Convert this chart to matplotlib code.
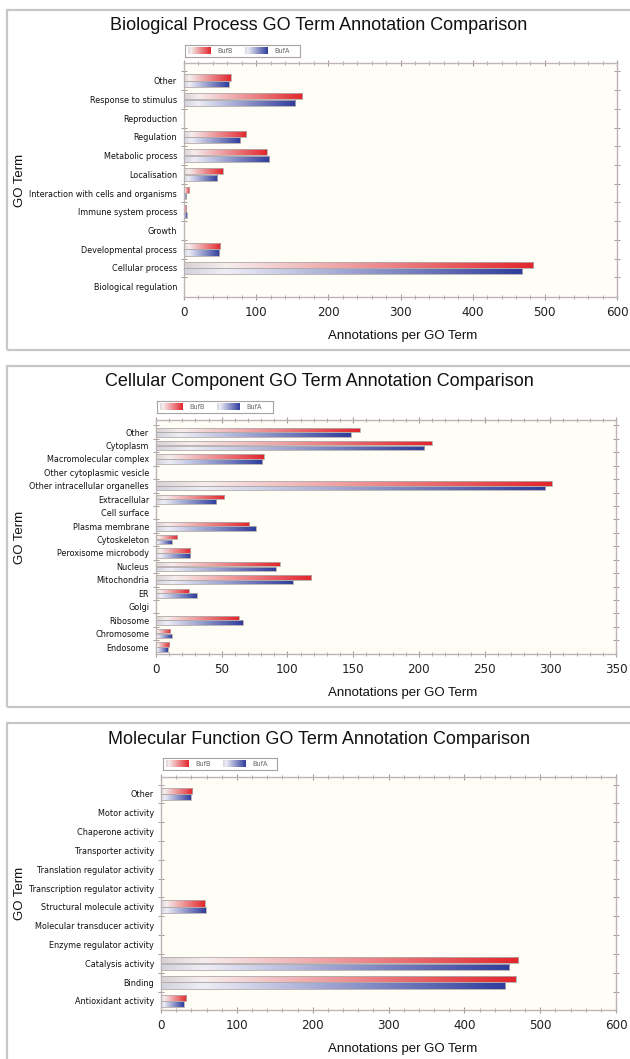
import numpy as np
import matplotlib
matplotlib.use("Agg")
import matplotlib.pyplot as plt
from matplotlib import font_manager
from matplotlib.colors import LinearSegmentedColormap
from matplotlib.patches import Rectangle
from matplotlib.ticker import MultipleLocator, FixedLocator

# ---------------- data ----------------
series_names = ["BufB", "BufA"]

bp_terms = ["Biological regulation", "Cellular process", "Developmental process", "Growth",
            "Immune system process", "Interaction with cells and organisms", "Localisation",
            "Metabolic process", "Regulation", "Reproduction", "Response to stimulus", "Other"]
bp_bufb = [0, 484, 50, 0, 3, 7, 54, 115, 86, 0, 164, 65]
bp_bufa = [0, 469, 49, 0, 4, 3, 46, 118, 78, 0, 154, 62]

cc_terms = ["Endosome", "Chromosome", "Ribosome", "Golgi", "ER", "Mitochondria", "Nucleus",
            "Peroxisome microbody", "Cytoskeleton", "Plasma membrane", "Cell surface",
            "Extracellular", "Other intracellular organelles", "Other cytoplasmic vesicle",
            "Macromolecular complex", "Cytoplasm", "Other"]
cc_bufb = [10, 11, 63, 0, 25, 118, 94, 26, 16, 71, 0, 52, 301, 0, 82, 210, 155]
cc_bufa = [9, 12, 66, 0, 31, 104, 91, 26, 12, 76, 0, 46, 296, 0, 81, 204, 148]

mf_terms = ["Antioxidant activity", "Binding", "Catalysis activity", "Enzyme regulator activity",
            "Molecular transducer activity", "Structural molecule activity",
            "Transcription regulator activity", "Translation regulator activity",
            "Transporter activity", "Chaperone activity", "Motor activity", "Other"]
mf_bufb = [33, 468, 471, 0, 0, 58, 0, 0, 0, 0, 0, 41]
mf_bufa = [30, 454, 459, 0, 0, 59, 0, 0, 0, 0, 0, 39]

titles = ["Biological Process GO Term Annotation Comparison",
          "Cellular Component GO Term Annotation Comparison",
          "Molecular Function GO Term Annotation Comparison"]
xmaxes = [600, 350, 600]
xmajors = [100, 50, 100]
xminors = [20, 10, 20]

# ---------------- fonts ----------------
REG = ["Liberation Sans", "DejaVu Sans"]
_names = {(f.name, str(f.stretch)) for f in font_manager.fontManager.ttflist}
_fam_names = {n for n, _ in _names}
if "Liberation Sans Narrow" in _fam_names:
    NARROW = dict(family=["Liberation Sans Narrow", "DejaVu Sans"], stretch="normal")
    label_fs, tick_fs, leg_fs = 7.4, 10, 5.5
elif any(n == "DejaVu Sans" and s in ("condensed", "semi-condensed", "75", "87.5")
         for n, s in _names):
    NARROW = dict(family=["DejaVu Sans"], stretch="condensed")
    label_fs, tick_fs, leg_fs = 6.5, 9.5, 5.2
else:
    NARROW = dict(family=["Liberation Sans", "DejaVu Sans"], stretch="normal")
    label_fs, tick_fs, leg_fs = 6.0, 9, 5.0

# ---------------- style ----------------
W, H = 630, 1059
fig = plt.figure(figsize=(W / 100, H / 100), dpi=100)
fig.patch.set_facecolor("white")

red_cmap = LinearSegmentedColormap.from_list(
    "r", [(0, "#d9d2d4"), (0.12, "#f6eeee"), (1.0, "#e2262c")])
blue_cmap = LinearSegmentedColormap.from_list(
    "b", [(0, "#d2d2dc"), (0.12, "#eeeef7"), (1.0, "#2f3d9c")])
cmaps = [red_cmap, blue_cmap]
grad = np.linspace(0, 1, 256).reshape(1, -1)

spine_col = "#bdb5b5"
tick_col = "#a89898"


def fx(px):
    return px / W


def fy(py):
    return 1 - py / H


panels = [
    dict(frame=(10, 350), ax=(184, 617, 63, 297), title_y=25, leg=(185, 300, 45, 57),
         xlabel_y=336, ylabel_x=20, ylim_pad=(0.55, 0.95)),
    dict(frame=(366, 707), ax=(156, 616, 420, 654), title_y=382, leg=(157, 273, 401, 413),
         xlabel_y=693, ylabel_x=20, ylim_pad=(0.52, 0.9)),
    dict(frame=(723, 1070), ax=(161, 616, 777, 1010), title_y=740, leg=(163, 277, 758, 770),
         xlabel_y=1049, ylabel_x=20, ylim_pad=(0.48, 0.9)),
]

datasets = [(bp_terms, bp_bufb, bp_bufa), (cc_terms, cc_bufb, cc_bufa), (mf_terms, mf_bufb, mf_bufa)]

for i, (p, (terms, vb, va)) in enumerate(zip(panels, datasets)):
    ft, fb = p["frame"]
    fig.patches.append(Rectangle((fx(7), fy(fb)), fx(640) - fx(7), fy(ft) - fy(fb),
                                 transform=fig.transFigure, fill=False,
                                 edgecolor="#cbc6c6", lw=1.6, zorder=0))
    fig.text(fx(319), fy(p["title_y"]), titles[i], ha="center", va="center",
             fontsize=13, family=REG, color="#111111")

    x0, x1, y0, y1 = p["ax"]
    ax = fig.add_axes([fx(x0), fy(y1), fx(x1) - fx(x0), fy(y0) - fy(y1)])
    ax.set_facecolor("#fefdf6")

    n = len(terms)
    y = np.arange(n)
    h = 0.33
    offs = [0.175, -0.175]
    for s, vals in enumerate([vb, va]):
        bars = ax.barh(y + offs[s], vals, height=h, color="none",
                       edgecolor="#b3aaaa", lw=0.6, zorder=4)
        for b, v in zip(bars, vals):
            if v <= 0:
                b.set_visible(False)
                continue
            bx, by, bw, bh = b.get_x(), b.get_y(), b.get_width(), b.get_height()
            im = ax.imshow(grad, extent=[bx, bx + bw, by, by + bh], cmap=cmaps[s],
                           aspect="auto", interpolation="bilinear", zorder=3)
            im.set_clip_path(b)

    ax.set_xlim(0, xmaxes[i])
    ax.set_ylim(-p["ylim_pad"][0], n - 1 + p["ylim_pad"][1])
    ax.set_aspect("auto")

    ax.set_yticks(y)
    ax.set_yticklabels(terms, fontsize=label_fs, color="#111111", **NARROW)
    ax.tick_params(axis="y", which="major", length=0, pad=5)
    ax.yaxis.set_minor_locator(FixedLocator(np.arange(n) + 0.5))
    ax.tick_params(axis="y", which="minor", length=4, direction="inout", color=tick_col,
                   left=True, right=True, width=0.7)

    ax.xaxis.set_major_locator(MultipleLocator(xmajors[i]))
    ax.xaxis.set_minor_locator(MultipleLocator(xminors[i]))
    ax.tick_params(axis="x", which="major", length=5, direction="inout", color=tick_col,
                   top=True, bottom=True, width=0.8, labelsize=tick_fs, pad=4)
    ax.tick_params(axis="x", which="minor", length=3, direction="inout", color=tick_col,
                   top=True, bottom=True, width=0.6)
    for lab in ax.get_xticklabels():
        lab.set_family(NARROW["family"])
        lab.set_stretch(NARROW["stretch"])
        lab.set_color("#222222")

    for sp in ax.spines.values():
        sp.set_color(spine_col)
        sp.set_linewidth(1.0)

    ax.set_xlabel("Annotations per GO Term", fontsize=9.5, family=REG, color="#111111")
    ax.xaxis.set_label_coords((403 - x0) / (x1 - x0), (y1 - (p["xlabel_y"] - 6)) / (y1 - y0))
    ax.set_ylabel("GO Term", fontsize=9.5, family=REG, color="#111111")
    ax.yaxis.set_label_coords((p["ylabel_x"] + 6 - x0) / (x1 - x0), 0.5)

    lx0, lx1, ly0, ly1 = p["leg"]
    lax = fig.add_axes([fx(lx0), fy(ly1), fx(lx1) - fx(lx0), fy(ly0) - fy(ly1)])
    lax.set_xticks([])
    lax.set_yticks([])
    lax.set_facecolor("white")
    for sp in lax.spines.values():
        sp.set_color("#a9a3a3")
        sp.set_linewidth(0.8)
    sw_x = [3, 60]
    for s in range(2):
        lax.imshow(grad, extent=[sw_x[s], sw_x[s] + 23, 0.22, 0.78], cmap=cmaps[s],
                   aspect="auto", interpolation="bilinear")
        lax.text(sw_x[s] + 29, 0.5, series_names[s], fontsize=leg_fs, color="#666666",
                 va="center", ha="left", **NARROW)
    lax.set_xlim(0, lx1 - lx0)
    lax.set_ylim(0, 1)

fig.savefig("out.png", dpi=100)
